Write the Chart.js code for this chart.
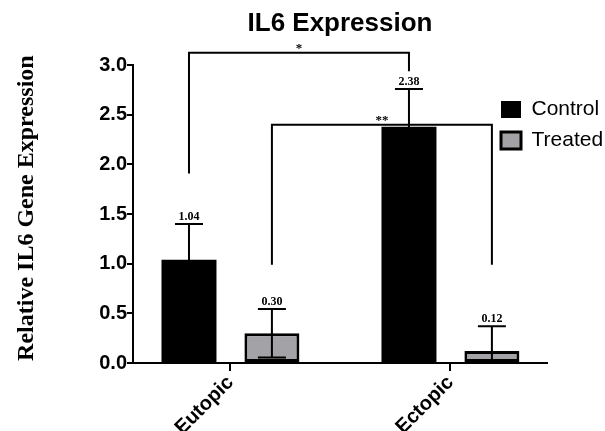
<!DOCTYPE html>
<html>
<head>
<meta charset="utf-8">
<script src="https://cdn.jsdelivr.net/npm/chart.js@4.4.1/dist/chart.umd.min.js"></script>
<style>
  html, body { margin: 0; padding: 0; background: #fff; }
</style>
</head>
<body>
<canvas id="il6Chart" width="605" height="431"></canvas>
<script>
// Values
const categories = ['Eutopic', 'Ectopic'];
const seriesNames = ['Control', 'Treated'];
const controlValues = [1.04, 2.38];
const controlErrors = [0.36, 0.38];
const treatedValues = [0.30, 0.12];
const treatedErrors = [0.245, 0.25];
const yTickValues = [0, 0.5, 1.0, 1.5, 2.0, 2.5, 3.0];

// Significance brackets: legs as [dataset, category], heights in data units
const bracketLabels = ['*', '**'];
const bracketLegs = [[[0, 0], [0, 1]], [[1, 0], [1, 1]]];
const bracketTops = [3.125, 2.40];
const bracketLegEnds = [[1.91, 2.94], [0.99, 0.99]];

const seriesErrors = [controlErrors, treatedErrors];

const serif = '"Liberation Serif", "Times New Roman", serif';
const sans = '"Liberation Sans", Arial, sans-serif';

// error bars, value labels, brackets, legend placement
const annotationPlugin = {
    id: 'annotations',
    afterLayout(chart) {
        // legend sits inside the plot on the upper right
        const lg = chart.legend;
        lg.left = 491;
        lg.top = 89;
        lg.right = 605;
        lg.bottom = 170;
    },
    afterDatasetsDraw(chart) {
        const ctx = chart.ctx;
        const yScale = chart.scales.y;
        ctx.save();
        ctx.strokeStyle = '#000';
        ctx.fillStyle = '#000';
        ctx.lineWidth = 2;
        ctx.textAlign = 'center';
        ctx.textBaseline = 'alphabetic';

        chart.data.datasets.forEach((ds, di) => {
            const meta = chart.getDatasetMeta(di);
            meta.data.forEach((bar, i) => {
                const v = ds.data[i].y;
                const err = seriesErrors[di][i];
                const yHigh = yScale.getPixelForValue(v + err);
                const lowClipped = v - err <= 0;
                const yLow = yScale.getPixelForValue(Math.max(v - err, 0));
                const capHalf = 14;

                ctx.beginPath();
                ctx.moveTo(bar.x, yLow);
                ctx.lineTo(bar.x, yHigh);
                ctx.moveTo(bar.x - capHalf, yHigh);
                ctx.lineTo(bar.x + capHalf, yHigh);
                if (!lowClipped) {
                    ctx.moveTo(bar.x - capHalf, yLow);
                    ctx.lineTo(bar.x + capHalf, yLow);
                }
                ctx.stroke();

                ctx.font = 'bold 12px ' + serif;
                ctx.fillText(v.toFixed(2), bar.x, yHigh - 4);
            });
        });

        bracketLabels.forEach((label, k) => {
            const [a, b] = bracketLegs[k];
            const xa = chart.getDatasetMeta(a[0]).data[a[1]].x;
            const xb = chart.getDatasetMeta(b[0]).data[b[1]].x;
            const yt = yScale.getPixelForValue(bracketTops[k]);
            const ya = yScale.getPixelForValue(bracketLegEnds[k][0]);
            const yb = yScale.getPixelForValue(bracketLegEnds[k][1]);
            ctx.beginPath();
            ctx.moveTo(xa, ya);
            ctx.lineTo(xa, yt);
            ctx.lineTo(xb, yt);
            ctx.lineTo(xb, yb);
            ctx.stroke();
            ctx.font = 'bold 13px ' + serif;
            ctx.fillText(label, (xa + xb) / 2, yt - 1);
        });
        ctx.restore();
    }
};

const ctx = document.getElementById('il6Chart').getContext('2d');
new Chart(ctx, {
    type: 'bar',
    data: {
        datasets: [{
            label: seriesNames[0],
            data: categories.map((c, i) => ({ x: i, y: controlValues[i] })),
            backgroundColor: '#000000',
            borderColor: '#000000',
            borderWidth: 0,
            borderSkipped: false
        }, {
            label: seriesNames[1],
            data: categories.map((c, i) => ({ x: i, y: treatedValues[i] })),
            backgroundColor: '#a3a3a7',
            borderColor: '#000000',
            borderWidth: 3,
            borderSkipped: false
        }]
    },
    options: {
        responsive: false,
        animation: false,
        categoryPercentage: 0.754,
        barPercentage: 0.663,
        layout: {
            padding: { left: 0, right: 58, top: 0, bottom: 0 }
        },
        plugins: {
            tooltip: { enabled: false },
            title: {
                display: true,
                text: 'IL6 Expression',
                fullSize: false,
                color: '#000',
                font: { family: sans, size: 26, weight: 'bold' },
                padding: { top: 8, bottom: 26 }
            },
            legend: {
                position: 'chartArea',
                align: 'start',
                labels: {
                    color: '#000',
                    boxWidth: 20,
                    boxHeight: 17,
                    padding: 10,
                    font: { family: sans, size: 21 }
                }
            }
        },
        scales: {
            x: {
                type: 'linear',
                min: -0.443,
                max: 1.439,
                offset: false,
                afterBuildTicks: (scale) => {
                    scale.ticks = categories.map((c, i) => ({ value: i }));
                },
                afterFit: (scale) => {
                    scale.height = 68;
                },
                grid: {
                    display: true,
                    offset: false,
                    drawOnChartArea: false,
                    drawTicks: true,
                    tickLength: 8,
                    color: '#000',
                    lineWidth: 2
                },
                border: { display: true, color: '#000', width: 2 },
                ticks: {
                    autoSkip: false,
                    minRotation: 45,
                    maxRotation: 45,
                    padding: 0,
                    color: '#000',
                    font: { family: sans, size: 20, weight: 'bold' },
                    callback: (value) => categories[value]
                }
            },
            y: {
                min: 0,
                max: 3,
                afterBuildTicks: (scale) => {
                    scale.ticks = yTickValues.map(v => ({ value: v }));
                },
                afterFit: (scale) => {
                    scale.width = 133;
                },
                grid: {
                    display: true,
                    drawOnChartArea: false,
                    drawTicks: true,
                    tickLength: 6,
                    color: '#000',
                    lineWidth: 2
                },
                border: { display: true, color: '#000', width: 2 },
                ticks: {
                    padding: 0,
                    color: '#000',
                    font: { family: sans, size: 20, weight: 'bold' },
                    callback: (value) => Number(value).toFixed(1)
                },
                title: {
                    display: true,
                    // leading spaces nudge the centred title upward as in the figure
                    text: '  Relative IL6 Gene Expression',
                    color: '#000',
                    font: { family: serif, size: 24, weight: 'bold' },
                    padding: { top: 12, bottom: 0 }
                }
            }
        }
    },
    plugins: [annotationPlugin]
});
</script>
</body>
</html>
